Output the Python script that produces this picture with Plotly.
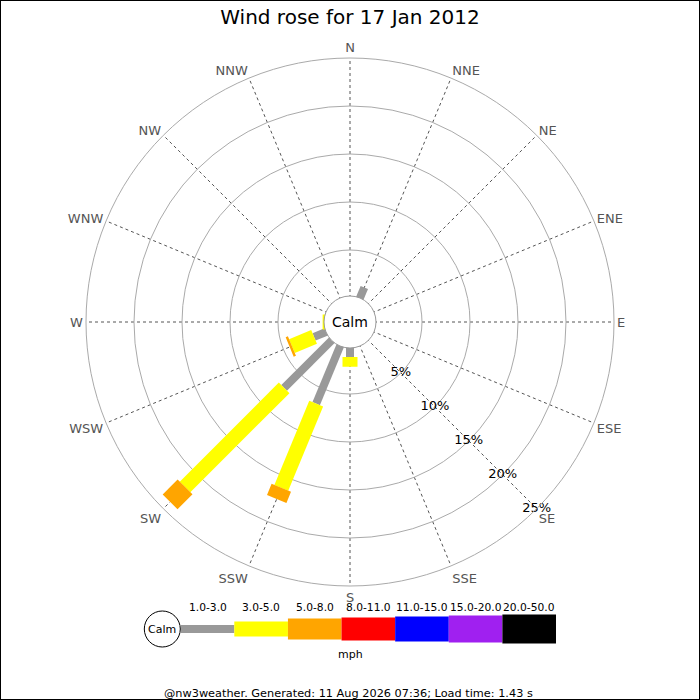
import plotly.graph_objects as go

# ---------------- data ----------------
directions = ["N", "NNE", "NE", "ENE", "E", "ESE", "SE", "SSE",
              "S", "SSW", "SW", "WSW", "W", "WNW", "NW", "NNW"]
speed_bins = ["1.0-3.0", "3.0-5.0", "5.0-8.0", "8.0-11.0",
              "11.0-15.0", "15.0-20.0", "20.0-50.0"]
# frequency (%) per direction for each speed bin
freq_1_3 = [0, 1.4, 0, 0, 0, 0, 0, 0, 1.15, 6.7, 7.2, 1.55, 0, 0, 0, 0]
freq_3_5 = [0, 0, 0, 0, 0, 0, 0, 0, 1.0, 9.5, 14.6, 2.5, 0.35, 0, 0, 0]
freq_5_8 = [0, 0, 0, 0, 0, 0, 0, 0, 0, 1.25, 2.2, 0.25, 0, 0, 0, 0]
freq_8_11 = [0] * 16
freq_11_15 = [0] * 16
freq_15_20 = [0] * 16
freq_20_50 = [0] * 16
radial_ticks = [5, 10, 15, 20, 25]
radial_tick_labels = ["5%", "10%", "15%", "20%", "25%"]
title_text = "Wind rose for 17 Jan 2012"
unit_text = "mph"
footer_text = "@nw3weather. Generated: 11 Aug 2026 07:36; Load time: 1.43 s"

# ---------------- styles ----------------
bin_colors = ["#999999", "#ffff00", "#ffa500", "#ff0000", "#0000ff", "#a020f0", "#000000"]
bin_widths = [8, 15, 21, 23, 25, 27, 29]
FONT = "DejaVu Sans"

series = [freq_1_3, freq_3_5, freq_5_8, freq_8_11, freq_11_15, freq_15_20, freq_20_50]

fig = go.Figure()

# stacked segments per direction
cum = [0.0] * len(directions)
for b, vals in enumerate(series):
    for d, v in enumerate(vals):
        if v > 0:
            fig.add_trace(go.Scatterpolar(
                r=[cum[d], cum[d] + v], theta=[directions[d], directions[d]],
                mode="lines", line=dict(color=bin_colors[b], width=bin_widths[b]),
                showlegend=False, hoverinfo="skip"))
            cum[d] += v

# radial labels along SE
fig.add_trace(go.Scatterpolar(
    r=radial_ticks, theta=["SE"] * len(radial_ticks), mode="text",
    text=radial_tick_labels, textfont=dict(family=FONT, size=13, color="#000"),
    showlegend=False, hoverinfo="skip", cliponaxis=False))

# legend bars (hidden cartesian axes)
for i, lab in enumerate(speed_bins):
    fig.add_trace(go.Scatter(
        x=[i, i + 1], y=[0, 0], mode="lines",
        line=dict(color=bin_colors[i], width=bin_widths[i]),
        showlegend=False, hoverinfo="skip", xaxis="x", yaxis="y"))

W = H = 700
cx, cy, R = 350, 322, 264
hole_px = 24

def px(x):
    return x / W

def py(y):
    return 1 - y / H

fig.update_layout(
    width=W, height=H,
    margin=dict(l=0, r=0, t=0, b=0),
    paper_bgcolor="white", plot_bgcolor="white",
    font=dict(family=FONT, color="#000"),
    title=dict(text=title_text, x=0.5, xanchor="center", y=py(17), yanchor="middle",
               font=dict(family=FONT, size=20, color="#000")),
    polar=dict(
        domain=dict(x=[px(cx - R), px(cx + R)], y=[py(cy + R), py(cy - R)]),
        hole=hole_px / R,
        bgcolor="white",
        angularaxis=dict(
            type="category", categoryarray=directions, direction="clockwise",
            rotation=90, showline=True, linecolor="#aaaaaa", linewidth=1,
            showgrid=True, gridcolor="#555555", griddash="dot", gridwidth=1,
            ticks="", tickfont=dict(family=FONT, size=13, color="#555555")),
        radialaxis=dict(
            range=[0, 25], tickvals=radial_ticks, showticklabels=False,
            ticks="", showline=False, showgrid=True, gridcolor="#aaaaaa",
            gridwidth=1, angle=-45)),
    xaxis=dict(domain=[px(180.7), px(556)], range=[0, len(speed_bins)],
               visible=False, fixedrange=True),
    yaxis=dict(domain=[py(629) - 0.05, py(629) + 0.05], range=[-1, 1],
               visible=False, fixedrange=True),
)

shapes = [
    # calm circle in the rose
    dict(type="circle", xref="paper", yref="paper",
         x0=px(cx - 26), x1=px(cx + 26), y0=py(cy + 26), y1=py(cy - 26),
         fillcolor="white", line=dict(color="#999999", width=1), layer="above"),
    # calm circle in legend
    dict(type="circle", xref="paper", yref="paper",
         x0=px(162.3 - 18), x1=px(162.3 + 18), y0=py(629 + 18), y1=py(629 - 18),
         fillcolor="white", line=dict(color="#000000", width=1), layer="above"),
    # border
    dict(type="rect", xref="paper", yref="paper", x0=0, x1=1, y0=0, y1=1,
         line=dict(color="#000", width=2), fillcolor="rgba(0,0,0,0)"),
]

def ann(text, x, y, size, xref="paper"):
    return dict(text=text, xref=xref, yref="paper", x=x, y=y, showarrow=False,
                xanchor="center", yanchor="middle",
                font=dict(family=FONT, size=size, color="#000"))

annotations = [
    ann("Calm", px(cx), py(cy), 14),
    ann("Calm", px(162.3), py(629), 11),
    ann(unit_text, px(350), py(654), 11),
    ann(footer_text, px(348), py(693), 11.3),
]
for i, lab in enumerate(speed_bins):
    annotations.append(ann(lab, i + 0.5, py(607), 10.7, xref="x"))

fig.update_layout(shapes=shapes, annotations=annotations)
fig.write_html("out.html", config={"displayModeBar": False},
               post_script="document.body.style.margin='0';document.body.style.overflow='hidden';")
